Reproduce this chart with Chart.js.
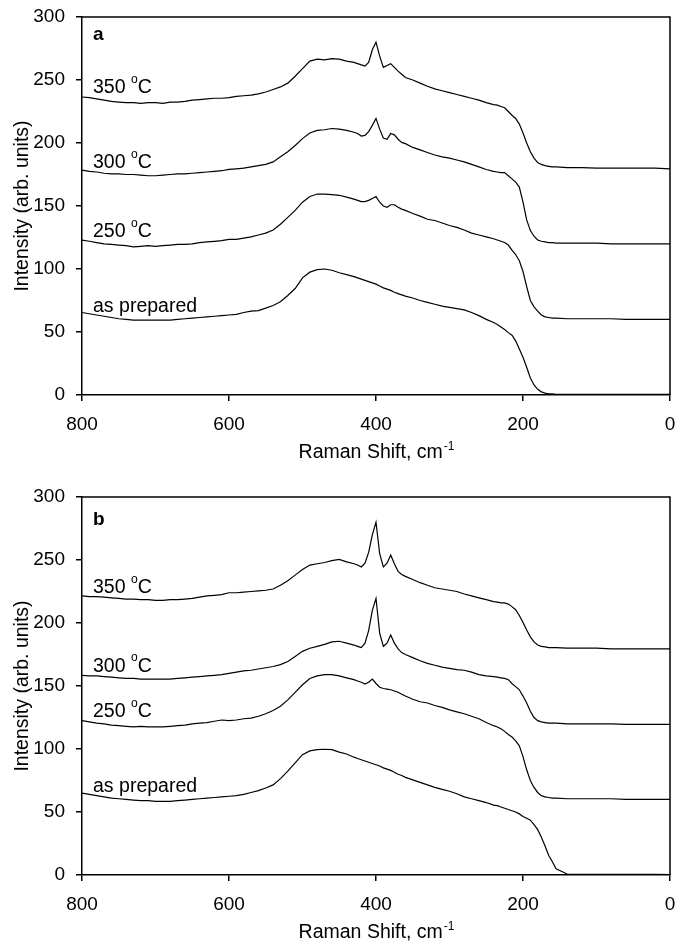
<!DOCTYPE html>
<html>
<head>
<meta charset="utf-8">
<script src="https://cdn.jsdelivr.net/npm/chart.js@4.4.1/dist/chart.umd.min.js"></script>
<style>
  body { margin: 0; background: #fff; }
  canvas { display: block; }
</style>
</head>
<body>
<canvas id="chartA" width="675" height="470"></canvas>
<canvas id="chartB" width="675" height="471"></canvas>
<script>
// Raman shift (cm-1), shared by every curve
const shift = [
  800,790,780,770,760,750,740,730,720,710,700,690,680,670,660,650,640,630,620,610,600,590,580,570,560,550,540,530,520,510,500,490,480,470,460,450,440,430,
  425,420,415,410,405,400,395,390,385,380,375,370,365,
  360,350,340,330,320,310,300,290,280,270,260,250,240,
  235,230,225,220,215,210,205,200,195,190,185,180,175,170,165,160,155,
  140,120,100,80,60,40,20,0
];

// panel a
const a350 = [
  236.5,236,235,234,233,232.5,232,232,231.5,232,232,231.5,232.5,232.5,233,234,234.5,235,235.5,235.5,236,237,237.5,238,239,240.5,242.5,244.5,247.5,253,259,265,266.5,266,267,266.5,265,264,
  263,262,261,264,274,280,269,260,261.5,263,260,257,254.5,
  252,250,247.5,245,243,241.5,240,238.5,237,235.5,234,232,230.5,
  230,229,228,225,222,219.5,215,208,200,193,188,184.5,183,182,181.5,181,181,
  180.5,180.5,180,180,180,180,180,179.5
];
const a300 = [
  178.5,177.5,177,176,175.5,175.5,175,175,174.5,174,174,174.5,175,175.5,175.5,176,176.5,177,177.5,178,179,179.5,180,181,182,183,185,189,193,198,203.5,208,210,210.5,211.5,211,210,208.5,
  207.5,205.5,206,209,214,219.5,211,204,203,207.5,206.5,203,200.5,
  199.5,196.5,194.5,192.5,190.5,189,188,186.5,185,183,181,179,177.5,
  177,176.5,176.5,174,171.5,169,165,153,139,130.5,126,123,122,121.5,121,121,120.5,
  120.5,120.5,120.5,120,120,120,120,120
];
const a250 = [
  123,122,121,120,119.5,119,118.5,117.5,118,118.5,118,118.5,119,119.5,119.5,120,121,121.5,122,122.5,123.5,123.5,124.5,125.5,127,128.5,131,135.5,141,146.5,153,157.5,159.5,159.5,159,158.5,157,155.5,
  154.5,153.5,153.5,154.5,156,157.5,153,150,149,151,151,149,147.5,
  146.5,144,142,139.5,138.5,136.5,134.5,133,131,128.5,127,125.5,124,
  123,122,121,119,115,111.5,106.5,98,86,75,70,66.5,63.5,62,61.5,61,61,
  60.5,60.5,60.5,60.5,60,60,60,60
];
const a0 = [
  65.5,64.5,63.5,62.5,61.5,60.5,60,59.5,59.5,59.5,59.5,59.5,59.5,60,60.5,61,61.5,62,62.5,63,63.5,64,65.5,66.5,67,69,71,74,79,84.5,93,97.5,99.5,100,99,97,95.5,94,
  93,92,91,90,89,88,86.5,85,84,83,81.5,80.5,79.5,
  78.5,77,75,73.5,72,70.5,69.5,68.5,67.5,65.5,63,60,57.5,
  56,54,52,49.5,47.5,43,36.5,30,22,13.5,8,4.5,2.5,1.5,1,1,0.5,
  0.5,0.5,0.5,0.5,0.5,0.5,0.5,0.5
];

// panel b
const b350 = [
  221.5,221,221,220.5,220,219.5,219,219,218.5,218.5,218,218,218.5,218.5,219,219.5,220.5,221.5,222,222.5,224,224,224.5,225,225.5,226,227,230,233.5,238,242.5,246,247,248,249.5,250.5,248.5,247,
  246,244.5,247.5,256,270,280,255,244.5,247.5,254,247,241,238.5,
  237,234.5,232,230,228,227,226,225,223,221.5,220,218.5,217,
  216.5,216,216,215,213,210.5,206,200.5,194.5,189,185,182.5,181.5,181,180.5,180.5,180.5,
  180,180,180,179.5,179.5,179.5,179.5,179.5
];
const b300 = [
  158.5,158,158,157.5,157,156.5,156,156,155.5,155.5,155.5,155.5,155.5,156,156.5,157,157.5,158,158.5,159,160,161,162,162.5,163.5,164.5,165.5,167,169.5,173.5,177.5,180,181.5,183,185,185.5,184,182.5,
  181.5,180.5,184,194,210,219.5,192,181.5,184,190.5,184,179.5,176.5,
  175,172.5,170,168,166.5,165,164,163,162.5,161,159,158,157.5,
  157,156.5,156,155,152,149.5,147,142,136.5,130,125,122.5,121.5,121,120.5,120.5,120.5,
  120,120,120,120,119.5,119.5,119.5,119.5
];
const b250 = [
  122.5,121.5,120.5,120,119,118.5,118,117.5,118,117.5,117.5,117.5,118,118.5,119,120,120.5,121,122,123,122.5,123,124,124.5,126,128,130.5,134,139,145,151,156,158,159,159,158,156.5,155,
  154,153,151.5,153,155.5,152,149,148,147.5,147,146,145,143.5,
  142,139.5,137.5,136.5,134.5,133,131,129.5,128,126,124,121,118.5,
  117.5,116,114,111.5,109.5,106.5,102.5,94,83.5,75,69.5,65.5,63,62,61.5,61,61,
  60.5,60.5,60.5,60.5,60,60,60,60
];
const b0 = [
  65,64,63,62,61,60.5,60,59.5,59,59,58.5,58.5,58.5,59,59.5,60,60.5,61,61.5,62,62.5,63,64,65.5,67,69,71.5,76.5,82.5,89,95.5,98.5,99.5,99.8,99.5,97.5,96,93.5,
  92.5,91.5,90.5,89.5,88.5,87.5,86.5,85,84,83,81.5,80,79,
  77.5,75.5,73.5,71.5,69.5,68,66.5,64.5,62,60.5,59,57.5,55.5,
  55,54,53,52,51,50,48.5,46.5,45,43.5,40,36,30,23,15.5,10.5,5,
  0.8,0.5,0.5,0.5,0.5,0.5,0.5,0.3
];

// curve labels (text, level on the intensity axis where the text sits)
const curveLabels = ['350 °C', '300 °C', '250 °C', 'as prepared'];
const labelLevelsA = [239.4, 180, 125.2, 66.1];
const labelLevelsB = [223.5, 161.4, 125.1, 66];
const labelShift = 785;

const FONT = "'Liberation Sans', Arial, Helvetica, sans-serif";

function drawDegreeText(ctx, text, x, y, size) {
  // '°' is drawn the way the source figure typesets it: a small raised o
  const parts = text.split('°');
  ctx.font = `${size}px ${FONT}`;
  ctx.fillText(parts[0], x, y);
  if (parts.length < 2) return;
  let cx = x + ctx.measureText(parts[0]).width;
  ctx.font = `${size * 0.62}px ${FONT}`;
  ctx.fillText('o', cx, y - size * 0.52);
  cx += ctx.measureText('o').width;
  ctx.font = `${size}px ${FONT}`;
  ctx.fillText(parts[1], cx, y);
}

const decorations = {
  id: 'decorations',
  afterDraw(chart, args, opts) {
    const {ctx, chartArea: ca, scales: {x, y}} = chart;
    ctx.save();
    ctx.strokeStyle = '#000';
    ctx.lineWidth = 1.5;
    ctx.beginPath();
    ctx.moveTo(ca.left, ca.top);
    ctx.lineTo(ca.right, ca.top);
    ctx.lineTo(ca.right, ca.bottom);
    ctx.stroke();

    ctx.fillStyle = '#000';
    ctx.textBaseline = 'alphabetic';
    ctx.textAlign = 'left';
    curveLabels.forEach((t, i) => {
      drawDegreeText(ctx, t, x.getPixelForValue(labelShift), y.getPixelForValue(opts.levels[i]), 19.5);
    });

    ctx.font = `bold 19px ${FONT}`;
    ctx.fillText(opts.panel, x.getPixelForValue(labelShift), ca.top + opts.panelOffset);

    // x axis title with superscript
    const main = 'Raman Shift, cm', sup = '-1';
    ctx.font = `19.5px ${FONT}`;
    const w1 = ctx.measureText(main).width;
    ctx.font = `12px ${FONT}`;
    const w2 = ctx.measureText(sup).width;
    const sx = (ca.left + ca.right) / 2 - (w1 + w2) / 2;
    const by = ca.bottom + 63;
    ctx.font = `19.5px ${FONT}`;
    ctx.fillText(main, sx, by);
    ctx.font = `12px ${FONT}`;
    ctx.fillText(sup, sx + w1 + 1, by - 8);
    ctx.restore();
  }
};

function noPadding(s) {
  s.paddingTop = 0;
  s.paddingBottom = 0;
  s.paddingLeft = 0;
  s.paddingRight = 0;
}

function makeChart(id, series, levels, panel, panelOffset, topPad, axisHeight) {
  const datasets = series.map(s => ({
    data: shift.map((v, i) => ({x: v, y: s[i]})),
    borderColor: '#000',
    borderWidth: 1.2,
    pointRadius: 0,
    tension: 0,
    fill: false
  }));
  return new Chart(document.getElementById(id), {
    type: 'line',
    data: {datasets},
    plugins: [decorations],
    options: {
      responsive: false,
      animation: false,
      layout: {padding: {top: topPad, right: 5, left: 0, bottom: 0}},
      plugins: {
        legend: {display: false},
        tooltip: {enabled: false},
        decorations: {levels, panel, panelOffset}
      },
      scales: {
        x: {
          type: 'linear',
          reverse: true,
          min: 0,
          max: 800,
          afterFit: s => { s.height = axisHeight; noPadding(s); },
          ticks: {stepSize: 200, color: '#000', font: {family: FONT, size: 19}, padding: 12, maxRotation: 0},
          grid: {drawOnChartArea: false, tickLength: 6, color: '#000', lineWidth: 1.5},
          border: {color: '#000', width: 1.5}
        },
        y: {
          min: 0,
          max: 300,
          afterFit: s => { s.width = 82; noPadding(s); },
          ticks: {stepSize: 50, color: '#000', font: {family: FONT, size: 19}, padding: 11},
          grid: {drawOnChartArea: false, tickLength: 6, color: '#000', lineWidth: 1.5},
          border: {color: '#000', width: 1.5},
          title: {display: true, text: 'Intensity (arb. units)', color: '#000',
                  font: {family: FONT, size: 19.5}, padding: {top: 11, bottom: 0}}
        }
      }
    }
  });
}

makeChart('chartA', [a350, a300, a250, a0], labelLevelsA, 'a', 23, 17, 75);
makeChart('chartB', [b350, b300, b250, b0], labelLevelsB, 'b', 28, 27, 66);
</script>
</body>
</html>
